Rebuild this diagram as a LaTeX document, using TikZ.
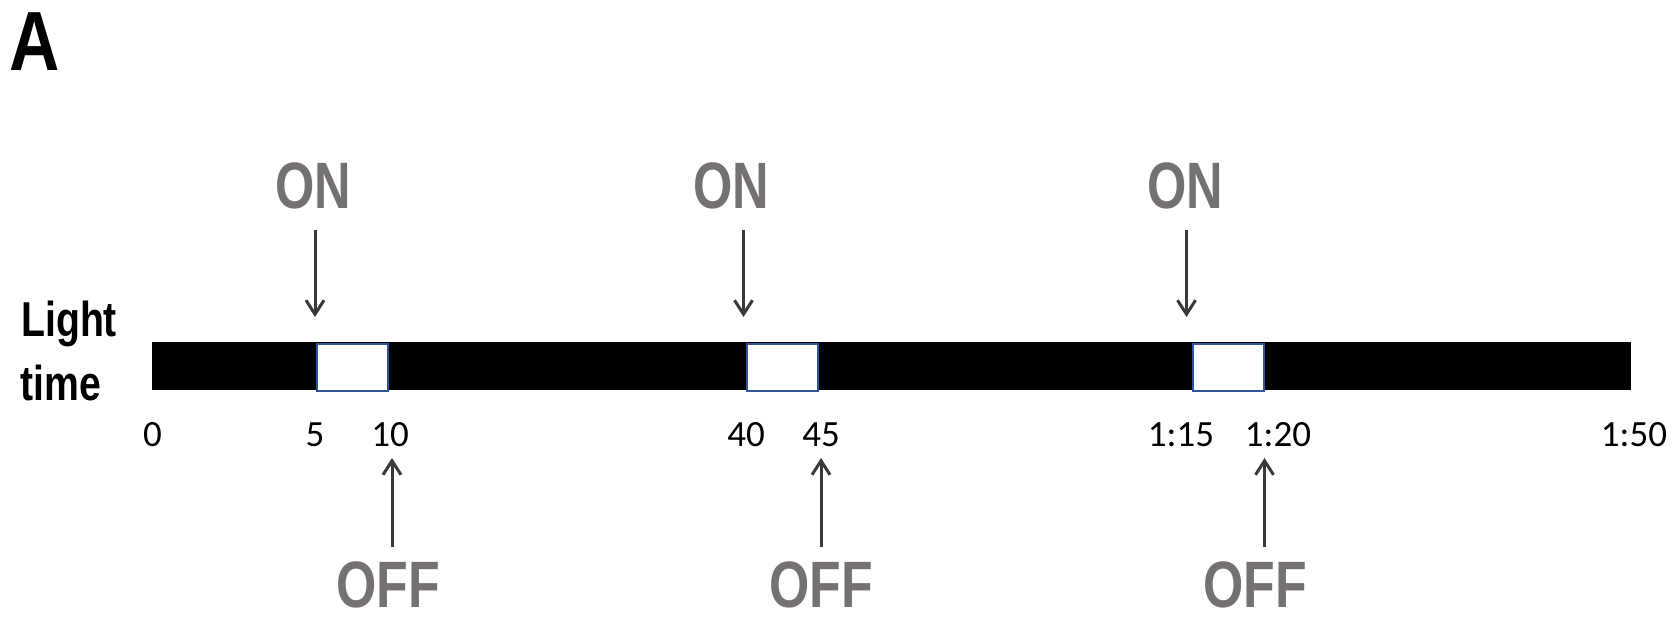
\documentclass[tikz,border=0pt]{standalone}
\usepackage{fontspec}
\usepackage{graphicx}
\usetikzlibrary{arrows.meta}
\newfontfamily\arialb{Liberation Sans}[BoldFont={Liberation Sans Bold}]
\newfontfamily\calib{Carlito}
\definecolor{txtgray}{HTML}{767171}
\definecolor{arrgray}{HTML}{3B3838}
\definecolor{boxblue}{HTML}{2F5597}
\tikzset{
  bigtxt/.style={inner sep=0pt, anchor=base, text=txtgray, font=\arialb\bfseries\fontsize{65.6}{70}\selectfont},
  ticklbl/.style={inner sep=0pt, anchor=base, font=\calib\fontsize{37}{40}\selectfont},
  sidelbl/.style={inner sep=0pt, anchor=base west, font=\arialb\bfseries\fontsize{49}{55}\selectfont},
  arr/.style={draw=arrgray, line width=3pt, -{Straight Barb[length=14pt,width=18pt,line width=3pt]}},
  lightbox/.style={draw=boxblue, line width=2pt, fill=white}
}
\begin{document}
\begin{tikzpicture}[x=1pt,y=-1pt]
\useasboundingbox (0,0) rectangle (1672,622);
% panel letter
\node[inner sep=0pt, anchor=base west, font=\arialb\bfseries\fontsize{84}{90}\selectfont] (A) at (9.5,70.5) {\scalebox{0.83}[1]{A}};
% side label
\node[sidelbl] (light) at (21,336.5) {\scalebox{0.8}[1]{Light}};
\node[sidelbl] (time) at (20.5,400) {\scalebox{0.8}[1]{time}};
% bar
\node[draw=none, fill=black, inner sep=0pt, minimum width=1478.7pt, minimum height=48pt, anchor=north west] (bar) at (152,342) {};
\node[lightbox, inner sep=0pt, minimum width=71pt, minimum height=47pt, anchor=north west] (b1) at (316,342.5) {};
\node[lightbox, inner sep=0pt, minimum width=71pt, minimum height=47pt, anchor=north west] (b2) at (745.5,342.5) {};
\node[lightbox, inner sep=0pt, minimum width=71pt, minimum height=47pt, anchor=north west] (b3) at (1191.5,342.5) {};
% tick labels
\node[ticklbl] (t0) at (152.5,446.5) {0};
\node[ticklbl] (t5) at (315,446.5) {5};
\node[ticklbl] (t10) at (390,446.5) {10};
\node[ticklbl] (t40) at (746,446.5) {40};
\node[ticklbl] (t45) at (821,446.5) {45};
\node[ticklbl] (t115) at (1181,446.5) {1:15};
\node[ticklbl] (t120) at (1278,446.5) {1:20};
\node[ticklbl] (t150) at (1634,446.5) {1:50};
% ON labels
\node[bigtxt] (on1) at (313,208) {\scalebox{0.77}[1]{ON}};
\node[bigtxt] (on2) at (731.5,208) {\scalebox{0.77}[1]{ON}};
\node[bigtxt] (on3) at (1185,208) {\scalebox{0.77}[1]{ON}};
% OFF labels
\node[bigtxt] (off1) at (388,607) {\scalebox{0.79}[1]{OFF}};
\node[bigtxt] (off2) at (821,607) {\scalebox{0.79}[1]{OFF}};
\node[bigtxt] (off3) at (1255,607) {\scalebox{0.79}[1]{OFF}};
% arrow ends
\coordinate (on1s) at (315,230);   \coordinate (on1e) at (315,317);
\coordinate (on2s) at (743.5,230); \coordinate (on2e) at (743.5,317);
\coordinate (on3s) at (1186.5,230);\coordinate (on3e) at (1186.5,317);
\coordinate (off1s) at (392,547);  \coordinate (off1e) at (392,458);
\coordinate (off2s) at (821,547);  \coordinate (off2e) at (821,458);
\coordinate (off3s) at (1264.5,547);\coordinate (off3e) at (1264.5,458);
\draw[arr] (on1s) -- (on1e);
\draw[arr] (on2s) -- (on2e);
\draw[arr] (on3s) -- (on3e);
\draw[arr] (off1s) -- (off1e);
\draw[arr] (off2s) -- (off2e);
\draw[arr] (off3s) -- (off3e);
\end{tikzpicture}
\end{document}
